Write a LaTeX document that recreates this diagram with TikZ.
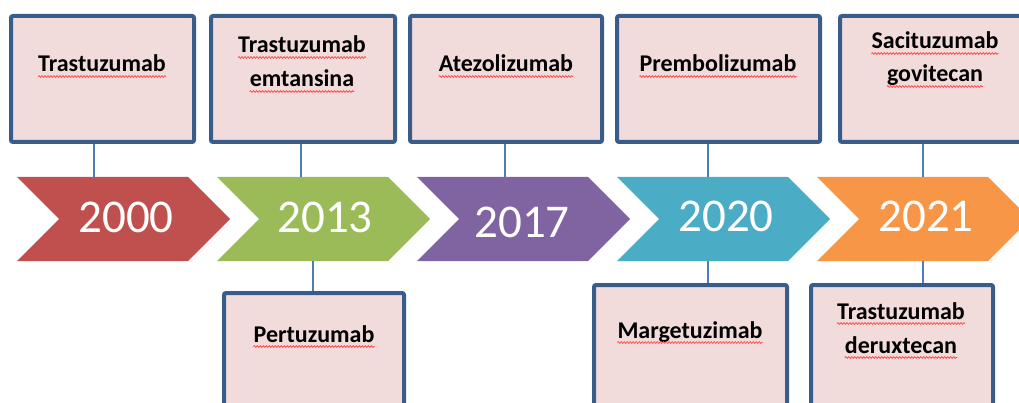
\documentclass[tikz,border=0pt]{standalone}
\usepackage{fontspec}
\setmainfont{Carlito}
\usetikzlibrary{decorations.pathmorphing}

\definecolor{yrRed}{HTML}{C0504D}
\definecolor{yrGreen}{HTML}{9BBB59}
\definecolor{yrPurple}{HTML}{8064A2}
\definecolor{yrTeal}{HTML}{4BACC6}
\definecolor{yrOrange}{HTML}{F79646}
\definecolor{boxFill}{HTML}{F2DCDB}
\definecolor{boxLine}{HTML}{385D8A}
\definecolor{linkBlue}{HTML}{4A7EBB}

\tikzset{
  drugbox/.style={draw=boxLine, fill=boxFill, line width=4pt, rounded corners=2pt,
                  inner sep=0pt, minimum height=#1},
  drugbox/.default=126pt,
  druglbl/.style={inner sep=0pt, anchor=base, text=black,
                  font=\fontsize{24}{29}\selectfont\bfseries},
  yearlbl/.style={inner sep=0pt, anchor=base, text=white,
                  font=\fontsize{47}{56}\selectfont},
  link/.style={draw=linkBlue, line width=1.5pt},
  squig/.style={draw=red!75, line width=0.7pt,
                decorate, decoration={snake, amplitude=0.9pt, segment length=3pt}},
}

% chevron with its left edge at #1, filled with colour #2
\newcommand{\yearchevron}[2]{%
  \fill[#2] (#1,177) -- ++(171,0) -- ++(42,42) -- ++(-42,42) -- ++(-171,0)
            -- ++(42,-42) -- cycle;}

% wavy spell-check line under a text node
\newcommand{\spellmark}[1]{%
  \draw[squig] ([yshift=-4.5pt]#1.base west) -- ([yshift=-4.5pt]#1.base east);}

\begin{document}
\begin{tikzpicture}[x=1pt, y=-1pt]
\useasboundingbox (0,0) rectangle (1019,403);
\clip (0,0) rectangle (1019,403);

% timeline chevrons
\yearchevron{17}{yrRed}
\yearchevron{217}{yrGreen}
\yearchevron{417}{yrPurple}
\yearchevron{617}{yrTeal}
\yearchevron{817}{yrOrange}

% attachment points on the chevron edges
\coordinate (c1) at (94,177);
\coordinate (c2) at (301,177);
\coordinate (c3) at (505,177);
\coordinate (c4) at (708,177);
\coordinate (c5) at (923,177);
\coordinate (d2) at (313,261);
\coordinate (d4) at (708,261);
\coordinate (d5) at (923,261);

% year labels
\node[yearlbl] (y1) at (126,233) {2000};
\node[yearlbl] (y2) at (325,233) {2013};
\node[yearlbl] (y3) at (522,237) {2017};
\node[yearlbl] (y4) at (726,232) {2020};
\node[yearlbl] (y5) at (926,232) {2021};

% drug boxes above the timeline
\node[drugbox, minimum width=183pt] (b1) at (102.5,79) {};
\node[drugbox, minimum width=184pt] (b2) at (303,79) {};
\node[drugbox, minimum width=192pt] (b3) at (506,79) {};
\node[drugbox, minimum width=203pt] (b4) at (718.5,79) {};
\node[drugbox, minimum width=200pt] (b5) at (940,79) {};

% drug boxes below the timeline
\node[drugbox=147pt, minimum width=180pt] (b6) at (314,366.5) {};
\node[drugbox=147pt, minimum width=193pt] (b7) at (690.5,358.5) {};
\node[drugbox=147pt, minimum width=182pt] (b8) at (902,358.5) {};

% connectors
\draw[link] (c1 |- b1.south) -- (c1);
\draw[link] (c2 |- b2.south) -- (c2);
\draw[link] (c3 |- b3.south) -- (c3);
\draw[link] (c4 |- b4.south) -- (c4);
\draw[link] (c5 |- b5.south) -- (c5);
\draw[link] (d2) -- (d2 |- b6.north);
\draw[link] (d4) -- (d4 |- b7.north);
\draw[link] (d5) -- (d5 |- b8.north);

% drug names
\node[druglbl] (t1)  at (102,72) {Trastuzumab};
\node[druglbl] (t2a) at (302,53) {Trastuzumab};
\node[druglbl] (t2b) at (302,87) {emtansina};
\node[druglbl] (t3)  at (506,72) {Atezolizumab};
\node[druglbl] (t4)  at (718,72) {Prembolizumab};
\node[druglbl] (t5a) at (935,49) {Sacituzumab};
\node[druglbl] (t5b) at (935,82) {govitecan};
\node[druglbl] (t6)  at (314,342) {Pertuzumab};
\node[druglbl] (t7)  at (690,338) {Margetuzimab};
\node[druglbl] (t8a) at (901,319) {Trastuzumab};
\node[druglbl] (t8b) at (901,353) {deruxtecan};

\foreach \t in {t1,t2a,t2b,t3,t4,t5a,t5b,t6,t7,t8a,t8b} {\spellmark{\t}}

\end{tikzpicture}
\end{document}
